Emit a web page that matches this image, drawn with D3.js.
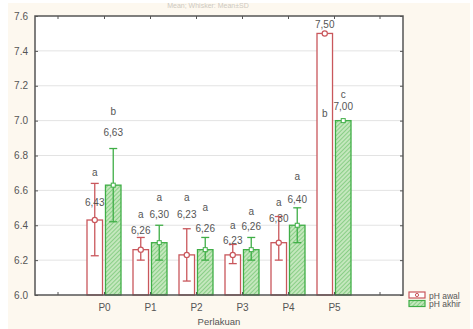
<!DOCTYPE html>
<meta charset="utf-8">
<style>
  body { margin: 0; background: #fff; }
  text { font-family: "Liberation Sans", Arial, sans-serif; }
</style>
<svg width="473" height="329"></svg>
<script src="https://d3js.org/d3.v7.min.js"></script>
<script>

var categories = ["P0", "P1", "P2", "P3", "P4", "P5"];
var series = ["pH awal", "pH akhir"];

var awal = [6.43, 6.26, 6.23, 6.23, 6.30, 7.50],
    akhir = [6.63, 6.30, 6.26, 6.26, 6.40, 7.00];

// whisker ends (mean ± sd)
var awalLow = [6.225, 6.20, 6.08, 6.18, 6.20, 7.50],
    awalHigh = [6.64, 6.33, 6.38, 6.29, 6.45, 7.50],
    akhirLow = [6.42, 6.20, 6.20, 6.20, 6.30, 7.00],
    akhirHigh = [6.84, 6.40, 6.33, 6.33, 6.50, 7.00];

var awalLetter = ["a", "a", "a", "a", "a", "b"],
    akhirLetter = ["b", "a", "a", "a", "a", "c"];

// where the annotations sit, in pH units
var awalLetterAt = [6.70, 6.46, 6.56, 6.40, 6.53, 7.04],
    awalValueAt = [6.53, 6.37, 6.46, 6.315, 6.44, 7.55],
    akhirLetterAt = [7.05, 6.56, 6.50, 6.48, 6.68, 7.15],
    akhirValueAt = [6.93, 6.46, 6.38, 6.39, 6.55, 7.08];

var yTicks = [6.0, 6.2, 6.4, 6.6, 6.8, 7.0, 7.2, 7.4, 7.6];

var svg = d3.select("svg"),
    margin = {top: 16, right: 70, bottom: 34, left: 35},
    width = 473 - margin.left - margin.right,
    height = 329 - margin.top - margin.bottom;

var red = "#c9575c", green = "#3fae46", ink = "#555";

svg.append("rect").attr("x", 8).attr("y", 3).attr("width", 462).attr("height", 326)
    .attr("fill", "#fdf8ef");

// faint title at the very top
svg.append("text").attr("x", 208).attr("y", 8)
    .attr("text-anchor", "middle").attr("font-size", 7).attr("fill", "#cdc9c1")
    .text("Mean; Whisker: Mean±SD");

var defs = svg.append("defs");
var pat = defs.append("pattern").attr("id", "hatch")
    .attr("patternUnits", "userSpaceOnUse").attr("width", 3).attr("height", 3)
    .attr("patternTransform", "rotate(45)");
pat.append("rect").attr("width", 3).attr("height", 3).attr("fill", "#c4e7bd");
pat.append("line").attr("x1", 0).attr("y1", 0).attr("x2", 0).attr("y2", 3)
    .attr("stroke", "#62bf63").attr("stroke-width", 1.2);

var g = svg.append("g").attr("transform", "translate(" + margin.left + "," + margin.top + ")");

var x = d3.scalePoint().domain(categories).range([0, width]).padding(1.5);
var sub = d3.scaleBand().domain(series).range([-17, 17]).paddingInner(0.16);
var y = d3.scaleLinear().domain([6.0, 7.6]).range([height, 0]);

g.append("rect").attr("width", width).attr("height", height).attr("fill", "#fff");

// grid
g.selectAll(".grid").data(yTicks.slice(1, -1)).enter().append("line")
    .attr("x1", 0).attr("x2", width)
    .attr("y1", function(d) { return y(d); }).attr("y2", function(d) { return y(d); })
    .attr("stroke", "#e3e3e3").attr("stroke-width", 1);

var rows = categories.map(function(c, i) {
  return [
    {cat: c, s: series[0], v: awal[i], lo: awalLow[i], hi: awalHigh[i], letter: awalLetter[i], lAt: awalLetterAt[i], vAt: awalValueAt[i]},
    {cat: c, s: series[1], v: akhir[i], lo: akhirLow[i], hi: akhirHigh[i], letter: akhirLetter[i], lAt: akhirLetterAt[i], vAt: akhirValueAt[i]}
  ];
});
var items = d3.merge(rows);

function cx(d) { return x(d.cat) + sub(d.s) + sub.bandwidth() / 2; }

g.selectAll(".bar").data(items).enter().append("rect")
    .attr("x", function(d) { return x(d.cat) + sub(d.s); })
    .attr("y", function(d) { return y(d.v); })
    .attr("width", sub.bandwidth())
    .attr("height", function(d) { return y(6.0) - y(d.v); })
    .attr("fill", function(d) { return d.s === series[0] ? "#fff" : "url(#hatch)"; })
    .attr("stroke", function(d) { return d.s === series[0] ? red : green; })
    .attr("stroke-width", 1.3);

// whiskers
var wk = g.selectAll(".wk").data(items.filter(function(d) { return d.hi > d.lo; })).enter().append("g")
    .attr("stroke", function(d) { return d.s === series[0] ? red : green; })
    .attr("stroke-width", 1.3);
wk.append("line").attr("x1", cx).attr("x2", cx)
    .attr("y1", function(d) { return y(d.lo); }).attr("y2", function(d) { return y(d.hi); });
wk.append("line").attr("x1", function(d) { return cx(d) - 4; }).attr("x2", function(d) { return cx(d) + 4; })
    .attr("y1", function(d) { return y(d.lo); }).attr("y2", function(d) { return y(d.lo); });
wk.append("line").attr("x1", function(d) { return cx(d) - 4; }).attr("x2", function(d) { return cx(d) + 4; })
    .attr("y1", function(d) { return y(d.hi); }).attr("y2", function(d) { return y(d.hi); });

// mean markers
g.selectAll(".m1").data(items.filter(function(d) { return d.s === series[0]; })).enter().append("circle")
    .attr("cx", cx).attr("cy", function(d) { return y(d.v); }).attr("r", 2.6)
    .attr("fill", "#fff").attr("stroke", red).attr("stroke-width", 1.2);
g.selectAll(".m2").data(items.filter(function(d) { return d.s === series[1]; })).enter().append("rect")
    .attr("x", function(d) { return cx(d) - 2; }).attr("y", function(d) { return y(d.v) - 2; })
    .attr("width", 4).attr("height", 4)
    .attr("fill", "#fff").attr("stroke", green).attr("stroke-width", 1);

// annotations
var fmt = function(v) { return d3.format(".2f")(v).replace(".", ","); };
g.selectAll(".lv").data(items).enter().append("text")
    .attr("x", cx).attr("y", function(d) { return y(d.vAt); }).attr("dy", "0.35em")
    .attr("text-anchor", "middle").attr("font-size", 10).attr("fill", ink)
    .text(function(d) { return fmt(d.v); });
g.selectAll(".ll").data(items).enter().append("text")
    .attr("x", cx).attr("y", function(d) { return y(d.lAt); }).attr("dy", "0.35em")
    .attr("text-anchor", "middle").attr("font-size", 10).attr("fill", ink)
    .text(function(d) { return d.letter; });

// axes
var ya = g.append("g").call(d3.axisLeft(y).tickValues(yTicks).tickFormat(d3.format(".1f")).tickSizeInner(-3).tickSizeOuter(0).tickPadding(7));
var yr = g.append("g").attr("transform", "translate(" + width + ",0)")
    .call(d3.axisRight(y).tickValues(yTicks).tickFormat("").tickSizeInner(-3).tickSizeOuter(0));
var xa = g.append("g").attr("transform", "translate(0," + height + ")")
    .call(d3.axisBottom(x).tickSizeInner(-3).tickSizeOuter(0).tickPadding(9));
var xt = g.append("g")
    .call(d3.axisTop(x).tickFormat("").tickSizeInner(-3).tickSizeOuter(0));

// ticks for the empty slots either side
[-1, categories.length].forEach(function(k) {
  var px = x(categories[0]) + k * x.step();
  g.append("line").attr("x1", px).attr("x2", px).attr("y1", height).attr("y2", height - 3).attr("stroke", ink);
  g.append("line").attr("x1", px).attr("x2", px).attr("y1", 0).attr("y2", 3).attr("stroke", ink);
});

[ya, yr, xa, xt].forEach(function(a) {
  a.select(".domain").remove();
  a.selectAll("line").attr("stroke", ink);
  a.selectAll("text").attr("fill", ink).attr("font-size", 10)
      .attr("font-family", "Liberation Sans, Arial, sans-serif");
});

g.append("rect").attr("width", width).attr("height", height)
    .attr("fill", "none").attr("stroke", "#555").attr("stroke-width", 1.5);

g.append("text").attr("x", width / 2).attr("y", height + 30)
    .attr("text-anchor", "middle").attr("font-size", 9.5).attr("fill", ink)
    .text("Perlakuan");

// legend
var lg = svg.append("g").attr("transform", "translate(409,292)");
series.forEach(function(s, i) {
  var r = lg.append("g").attr("transform", "translate(0," + i * 8.5 + ")");
  r.append("rect").attr("width", 16).attr("height", 6)
      .attr("fill", i ? "url(#hatch)" : "#fff").attr("stroke", i ? green : red).attr("stroke-width", 1.2);
  if (!i) r.append("circle").attr("cx", 8).attr("cy", 3).attr("r", 1.6).attr("fill", "#fff").attr("stroke", red);
  r.append("text").attr("x", 20).attr("y", 6.5).attr("font-size", 8.5).attr("fill", ink).text(s);
});

</script>
